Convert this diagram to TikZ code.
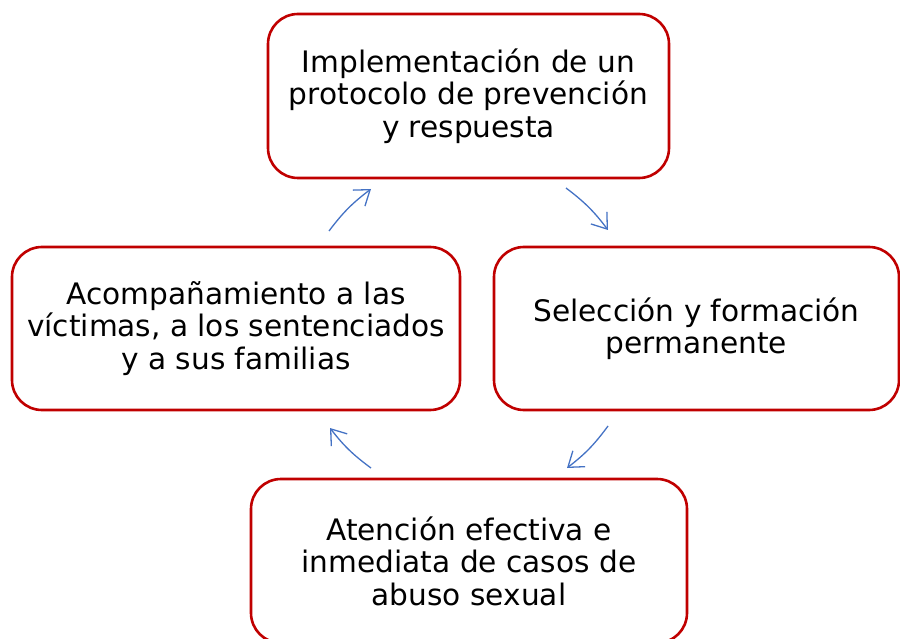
\documentclass[tikz,border=0pt]{standalone}
\usepackage{fontspec}
\setmainfont{DejaVu Sans}
\usepackage{xcolor}
\usetikzlibrary{positioning,arrows.meta}
\definecolor{cyclered}{HTML}{C00000}
\definecolor{cycleblue}{HTML}{4472C4}
\tikzset{
  stagebox/.style={rectangle,draw=cyclered,line width=2.6pt,rounded corners=30pt,fill=white,align=center,inner sep=0pt},
  cyclearrow/.style={-{Straight Barb[length=14pt,width=20pt,line width=1.3pt]},draw=cycleblue,line width=1.3pt,bend left=8}
}
\begin{document}
\begin{tikzpicture}[x=1pt,y=-1pt,font=\fontsize{29.6}{32.5}\selectfont]
    \useasboundingbox (0,0) rectangle (900,639);
    \node[stagebox,minimum width=401pt,minimum height=164pt] (proto) at (468.5,96) {Implementación de un\\protocolo de prevención\\y respuesta};
    \node[stagebox,minimum width=405pt,minimum height=163pt] (forma) at (696.5,328.5) {Selección y formación\\permanente};
    \node[stagebox,minimum width=436pt,minimum height=164pt] (atenc) at (469,561) {Atención efectiva e\\inmediata de casos de\\abuso sexual};
    \node[stagebox,minimum width=448pt,minimum height=163pt] (acomp) at (236,328.5) {Acompañamiento a las\\víctimas, a los sentenciados\\y a sus familias};

    % extremos de las flechas del ciclo
    \coordinate (a1) at (329,231); \coordinate (b1) at (371,189);
    \coordinate (a2) at (566,188); \coordinate (b2) at (608,230);
    \coordinate (a3) at (608,426); \coordinate (b3) at (567,468);
    \coordinate (a4) at (371,468); \coordinate (b4) at (330,428);
    \foreach \i in {1,...,4}
        \draw[cyclearrow] (a\i) to (b\i);
\end{tikzpicture}
\end{document}
